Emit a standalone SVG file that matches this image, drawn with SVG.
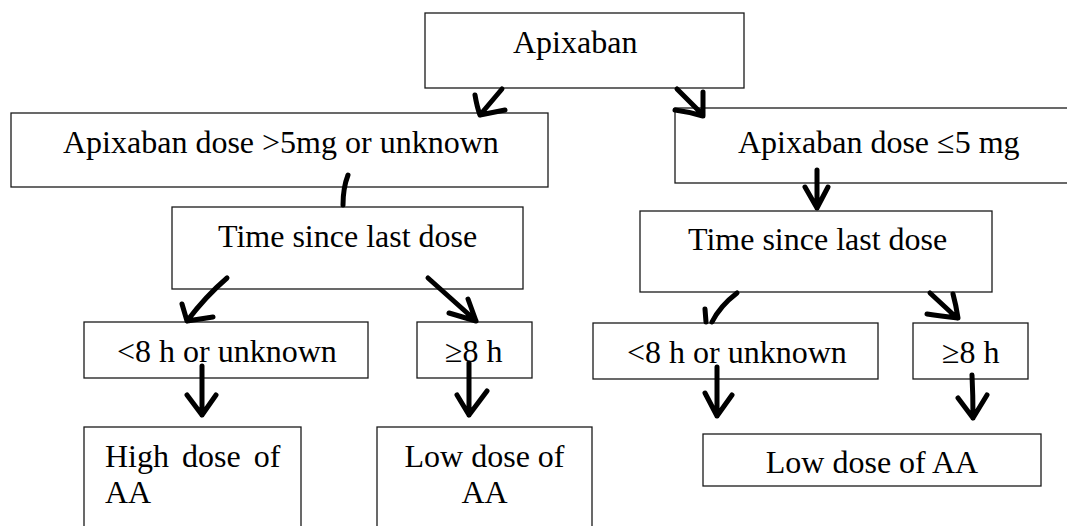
<svg xmlns="http://www.w3.org/2000/svg" width="1067" height="526" viewBox="0 0 1067 526">
<style>
.box{fill:#fff;stroke:#1a1a1a;stroke-width:1.3}
.t{font-family:"Liberation Serif","Times New Roman",serif;font-size:32px;fill:#000}
.c{fill:none;stroke:#000;stroke-width:5;stroke-linecap:round;stroke-linejoin:round}
</style>
<rect width="1067" height="526" fill="#fff"/>
<g id="n-apixaban"><rect class="box" x="425" y="13" width="319" height="75"/><text class="t" x="513" y="53">Apixaban</text></g>
<g id="n-dose-high"><rect class="box" x="11" y="113" width="537" height="74"/><text class="t" x="63" y="153">Apixaban dose &gt;5mg or unknown</text></g>
<g id="n-dose-low"><rect class="box" x="675" y="108" width="400" height="75"/><text class="t" x="738" y="153">Apixaban dose ≤5 mg</text></g>
<g id="n-time-left"><rect class="box" x="172" y="207" width="351" height="82"/><text class="t" x="218" y="247">Time since last dose</text></g>
<g id="n-time-right"><rect class="box" x="640" y="211" width="352" height="81"/><text class="t" x="688" y="250">Time since last dose</text></g>
<g id="n-lt8-left"><rect class="box" x="84" y="322" width="284" height="56"/><text class="t" x="117" y="362">&lt;8 h or unknown</text></g>
<g id="n-ge8-left"><rect class="box" x="417" y="322" width="115" height="56"/><text class="t" x="445" y="362">≥8 h</text></g>
<g id="n-lt8-right"><rect class="box" x="593" y="323" width="285" height="56"/><text class="t" x="627" y="363">&lt;8 h or unknown</text></g>
<g id="n-ge8-right"><rect class="box" x="913" y="323" width="115" height="56"/><text class="t" x="942" y="363">≥8 h</text></g>
<g id="n-high-aa"><rect class="box" x="84" y="427" width="217" height="110"/><text class="t" x="105" y="467" word-spacing="5">High dose of</text><text class="t" x="105" y="503">AA</text></g>
<g id="n-low-aa-left"><rect class="box" x="377" y="427" width="215" height="110"/><text class="t" x="484.5" y="467" text-anchor="middle">Low dose of</text><text class="t" x="484.5" y="503" text-anchor="middle">AA</text></g>
<g id="n-low-aa-right"><rect class="box" x="703" y="434" width="338" height="52"/><text class="t" x="872" y="473" text-anchor="middle">Low dose of AA</text></g>
<g id="connectors">
<path class="c" d="M502,89 L480,115 M475,95 Q477,107 480,115 L505,110"/>
<path class="c" d="M677,89 L703,115 M703,92 L703,116 M675,110 Q690,112 703,116"/>
<path class="c" d="M348,175 Q343,188 343,205"/>
<path class="c" d="M817,170 L817,208 M805,187 L817,208 L828,187"/>
<path class="c" d="M227,278 Q206,296 187,321 M182,304 L187,321 L213,317"/>
<path class="c" d="M428,278 L475,320 M449,313 L476,321 M468,299 Q472,310 476,321"/>
<path class="c" d="M737,293 Q720,306 712,322 M705,309 L706,322"/>
<path class="c" d="M930,293 L957,318 M927,314 Q940,316 958,318 M953,294 Q956,305 958,318"/>
<path class="c" d="M202,366 L202,415 M187,395 L202,415 L216,395"/>
<path class="c" d="M469,363 L469,415 M457,395 L469,415 L487,391"/>
<path class="c" d="M717,367 L717,416 M705,393 L717,416 L732,395"/>
<path class="c" d="M972,375 Q973,395 973,418 M958,398 L973,418 L987,395"/>
</g>
</svg>
